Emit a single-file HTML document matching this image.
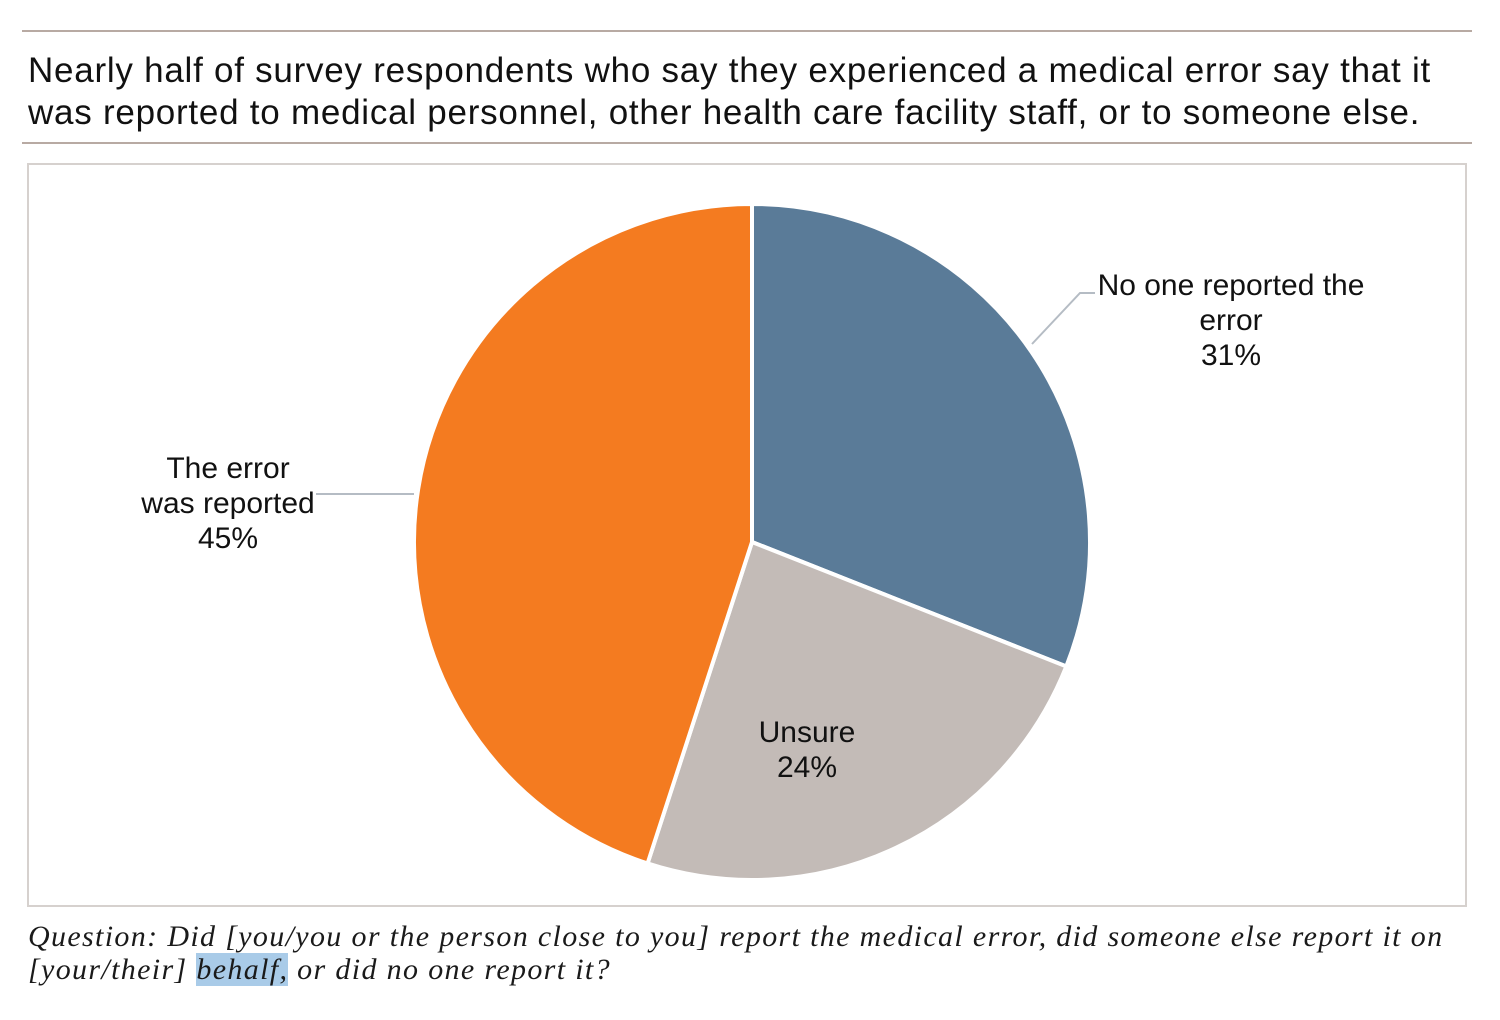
<!DOCTYPE html>
<html><head><meta charset="utf-8"><style>
body{margin:0;width:1500px;height:1020px;background:#fff;position:relative;overflow:hidden;font-family:"Liberation Sans",Arial,sans-serif}
.rule{position:absolute;left:22px;width:1450px;height:2px;background:#b8aaa3}
#title{position:absolute;left:28px;top:50px;font-size:35px;line-height:42px;color:#111;letter-spacing:0.75px;white-space:nowrap}
#box{position:absolute;left:27px;top:163px;width:1440px;height:744px;border:2px solid #d6d1ce;box-sizing:border-box}
#caption{position:absolute;left:28px;top:920px;font-family:"Liberation Serif",serif;font-style:italic;font-size:30px;line-height:33px;color:#1a1a1a;letter-spacing:1.35px;white-space:nowrap}
.hl{background:#a9cbe8}
svg{position:absolute;left:0;top:0}
</style></head><body>
<div class="rule" style="top:30px"></div>
<div id="title">Nearly half of survey respondents who say they experienced a medical error say that it<br>was reported to medical personnel, other health care facility staff, or to someone else.</div>
<div class="rule" style="top:142px"></div>
<div id="box"></div>
<svg id="chart" width="1500" height="1020"></svg>
<div id="caption">Question: Did [you/you or the person close to you] report the medical error, did someone else report it on<br>[your/their] <span class="hl">behalf,</span> or did no one report it?</div>
<script>
const categories=["No one reported the error","Unsure","The error was reported"];
const values=[31,24,45];
const colors=["#5a7b98","#c3bbb7","#f47b20"];
const svg=document.getElementById('chart');
const NS="http://www.w3.org/2000/svg";
const cx=752,cy=542,r=338;
const total=values.reduce((a,b)=>a+b,0);
function pt(a,rr){return [cx+rr*Math.sin(a),cy-rr*Math.cos(a)];}
let a0=0;
values.forEach((v,i)=>{
  const a1=a0+v/total*2*Math.PI;
  const p0=pt(a0,r),p1=pt(a1,r);
  const large=(a1-a0)>Math.PI?1:0;
  const p=document.createElementNS(NS,'path');
  p.setAttribute('d',`M${cx},${cy}L${p0[0]},${p0[1]}A${r},${r} 0 ${large} 1 ${p1[0]},${p1[1]}Z`);
  p.setAttribute('fill',colors[i]);p.setAttribute('stroke','#fff');p.setAttribute('stroke-width','4');
  
  
  svg.appendChild(p);
  a0=a1;
});
function line(pts){const l=document.createElementNS(NS,'polyline');l.setAttribute('points',pts);l.setAttribute('fill','none');l.setAttribute('stroke','#b5bcc4');l.setAttribute('stroke-width','2');


svg.appendChild(l);}
line("1032,344 1080,293 1095,293");
line("414,494 316,494");
function label(x,y,lines,name){
  const t=document.createElementNS(NS,'text');
  t.setAttribute('text-anchor','middle');t.setAttribute('font-size','30');t.setAttribute('fill','#111');
  t.setAttribute('font-family','Liberation Sans, Arial, sans-serif');
  
  
  lines.forEach((s,k)=>{const ts=document.createElementNS(NS,'tspan');ts.setAttribute('x',x);ts.setAttribute('y',y+k*35);ts.textContent=s;t.appendChild(ts);});
  svg.appendChild(t);
}
label(1231,295,["No one reported the","error",values[0]+"%"],'label-no-one');
label(807,742,["Unsure",values[1]+"%"],'label-unsure');
label(228,478,["The error","was reported",values[2]+"%"],'label-reported');
</script>
</body></html>
